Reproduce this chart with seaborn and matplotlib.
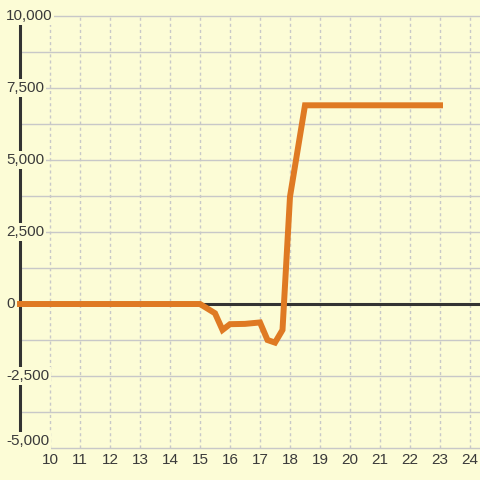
import pandas as pd
import matplotlib.pyplot as plt
import matplotlib.transforms as mtransforms
import seaborn as sns

# -------- DATA --------
x_values = [9, 15, 15.5, 15.75, 16, 16.5, 17, 17.25, 17.5, 17.75, 18, 18.5, 23]
y_values = [0, 0, -320, -900, -700, -690, -640, -1250, -1340, -900, 3730, 6900, 6900]

x_ticks = list(range(10, 25))
y_grid = list(range(-5000, 10001, 1250))
y_label_values = [-5000, -2500, 0, 2500, 5000, 7500, 10000]
y_labels = ["-5,000", "-2,500", "0", "2,500", "5,000", "7,500", "10,000"]

# -------- STYLE --------
bg_color = "#fcfcd6"
line_color = "#df7a23"
text_color = "#3a3a3a"
grid_color = "#c8c8c8"

sns.set_style("white")
plt.rcParams["font.family"] = ["Liberation Sans", "DejaVu Sans"]

df = pd.DataFrame({"x": x_values, "y": y_values})

fig = plt.figure(figsize=(4.8, 4.8), dpi=100, facecolor=bg_color)
ax = fig.add_axes([0, 30 / 480, 1, 450 / 480])
ax.set_facecolor(bg_color)

x_min, x_max = 8.3333, 24.3333
y_min, y_max = -5069, 10556
ax.set_xlim(x_min, x_max)
ax.set_ylim(y_min, y_max)

# grid only inside the data frame (x from 9, y from -5000 to 10000)
ax.hlines([v for v in y_grid if v != 0], 9, x_max, colors=grid_color, linewidth=1, zorder=1)
ax.vlines(x_ticks, -5000, 10000, colors=grid_color, linewidth=1,
          linestyles=(0, (2.2, 2.2)), zorder=1)

# axis lines
ax.hlines(0, 9, x_max, colors="#333333", linewidth=2.2, zorder=2)
ax.vlines(9, -5000, 10000, colors="#333333", linewidth=2.2, zorder=2)

# main line
sns.lineplot(data=df, x="x", y="y", sort=False, color=line_color, linewidth=4.3,
             ax=ax, zorder=4, solid_capstyle="projecting", solid_joinstyle="miter")

# y labels sit inside the plot with background boxes
trans = mtransforms.blended_transform_factory(ax.transAxes, ax.transData)
for val, lab in zip(y_label_values, y_labels):
    ax.text(6 / 480, val, lab, transform=trans, ha="left",
            va="bottom" if val == -5000 else "center",
            fontsize=11, color=text_color, zorder=3,
            bbox=dict(facecolor=bg_color, edgecolor="none", pad=1.2))

ax.set_xticks(x_ticks)
ax.set_xticklabels([str(t) for t in x_ticks], fontsize=11, color=text_color)
ax.set_yticks([])
ax.tick_params(axis="x", length=0, pad=2.5)
ax.set_xlabel("")
ax.set_ylabel("")
for s in ax.spines.values():
    s.set_visible(False)

plt.savefig("out.png", dpi=100, facecolor=bg_color)
